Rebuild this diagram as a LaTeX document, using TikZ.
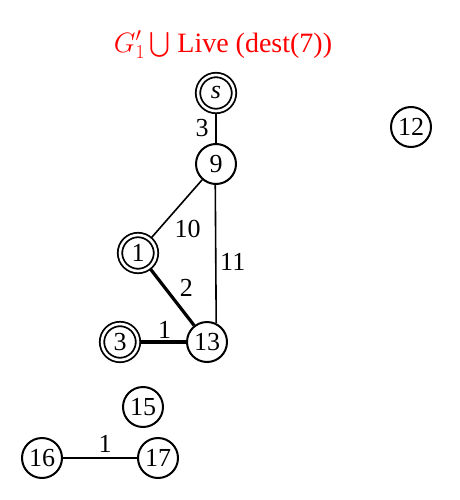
\RequirePackage{fix-cm}
\documentclass[tikz,border=0pt]{standalone}
\usepackage{amsmath}
\usepackage{fontspec}
\setmainfont{Liberation Serif}
\begin{document}
\begin{tikzpicture}[x=1pt,y=-1pt,
  v/.style={circle,draw,line width=2pt,minimum size=40pt,inner sep=0pt,font=\fontsize{26}{26}\selectfont},
  dv/.style={v,double,double distance=2.6pt,line width=1.8pt,minimum size=36pt,outer sep=2.2pt},
  e/.style={line width=1.6pt},
  me/.style={line width=2.2pt},
  te/.style={line width=3.2pt},
  lab/.style={font=\fontsize{26}{26}\selectfont,inner sep=0pt}]
\useasboundingbox (0,0) rectangle (459,500);
\node[red,font=\fontsize{28}{30}\selectfont] (title) at (223,45) {$G_1'\bigcup$ Live (dest(7))};
\node[dv] (s) at (216,93) {\textit{s}};
\node[v] (n9) at (216,164) {9};
\node[v] (n12) at (411,127) {12};
\node[dv] (n1) at (138,253) {1};
\node[v] (n13) at (207,342) {13};
\node[dv] (n3) at (120,342) {3};
\node[v] (n15) at (143,407) {15};
\node[v] (n16) at (42,458) {16};
\node[v] (n17) at (158,458) {17};
\draw[e] (s) -- node[lab,xshift=-14pt] {3} (n9);
\draw[e] (n9) -- node[lab,xshift=11pt,yshift=-20pt] {10} (n1);
\draw[e] (n9.-92) -- node[lab,xshift=17pt,yshift=-8pt] {11} (n13.64);
\draw[te] (n1) -- node[lab,xshift=14pt,yshift=9pt] {2} (n13);
\draw[te] (n3) -- node[lab,xshift=1.5pt,yshift=12pt] {1} (n13);
\draw[me] (n16) -- node[lab,xshift=5pt,yshift=14.5pt] {1} (n17);
\end{tikzpicture}
\end{document}
